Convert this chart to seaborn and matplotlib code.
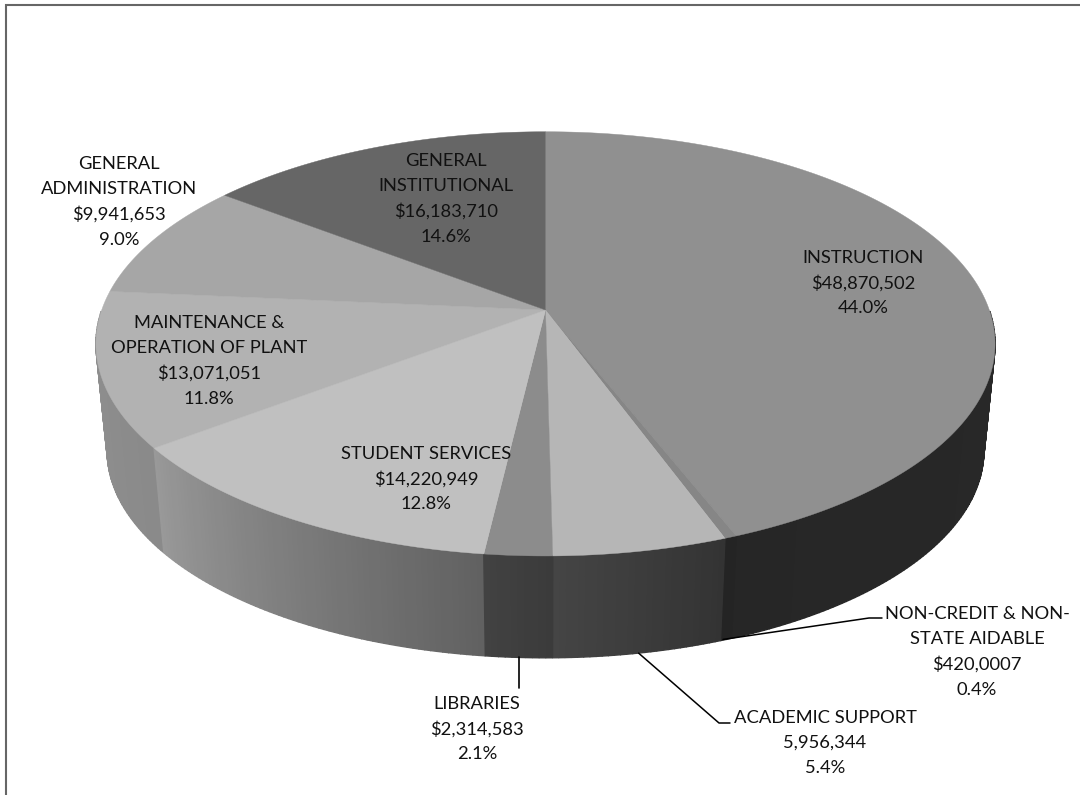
import numpy as np
import matplotlib.pyplot as plt
import seaborn as sns

# Data
categories = ["INSTRUCTION", "NON-CREDIT & NON-\nSTATE AIDABLE", "ACADEMIC SUPPORT", "LIBRARIES",
              "STUDENT SERVICES", "MAINTENANCE &\nOPERATION OF PLANT", "GENERAL\nADMINISTRATION",
              "GENERAL\nINSTITUTIONAL"]
amounts = [48870502, 420007, 5956344, 2314583, 14220949, 13071051, 9941653, 16183710]
amount_labels = ["$48,870,502", "$420,0007", "5,956,344", "$2,314,583", "$14,220,949", "$13,071,051",
                 "$9,941,653", "$16,183,710"]
percent_labels = ["44.0%", "0.4%", "5.4%", "2.1%", "12.8%", "11.8%", "9.0%", "14.6%"]

# Colours
top_colors = ["#909090", "#868686", "#b6b6b6", "#8c8c8c", "#c0c0c0", "#b2b2b2", "#a6a6a6", "#666666"]
wall_start = [0.17, 0.14, 0.20, 0.23, 0.38, 0.54, 0.56, 0.40]
wall_end = [0.15, 0.14, 0.27, 0.26, 0.60, 0.57, 0.58, 0.42]
label_x = [863, 977, 825, 477, 426, 209, 119, 446]
label_y = [283, 652, 743, 729, 479, 361, 202, 199]

sns.set_theme(style="white")
plt.rcParams['font.family'] = ['Lato', 'DejaVu Sans']
palette = sns.color_palette(top_colors)

# Perspective of the pie, in pixels of the picture
K = 0.1596
RX = 443.8
RY = 206.7
CX = 545.5
CY_TOP = 310
CY_BOTTOM = 418
BOTTOM_SCALE = 0.975


def project(theta, radius=1.0, cy=CY_TOP, scale=1.0):
    # theta runs clockwise from 12 o'clock
    x = radius * np.sin(theta)
    y = radius * np.cos(theta)
    w = 1 + K * y
    return CX + scale * RX * x / w, cy - scale * RY * y / w


fig = plt.figure(figsize=(10.8, 7.95), dpi=100)
ax = fig.add_axes([0, 0, 1, 1])
ax.set_xlim(0, 1080)
ax.set_ylim(795, 0)
ax.axis("off")

# Outer frame, only top and left
ax.plot([6, 6, 1080], [795, 5, 5], color="#666666", lw=1.5, solid_joinstyle="miter")

shares = np.array(amounts) / np.sum(amounts)
edges = np.concatenate([[0], np.cumsum(shares)]) * 2 * np.pi
mids = (edges[:-1] + edges[1:]) / 2

# Side wall, only the strips facing the viewer, back to front
strips = []
for i in range(len(amounts)):
    n = max(2, int((edges[i + 1] - edges[i]) / 0.012))
    t = np.linspace(edges[i], edges[i + 1], n + 1)
    for j in range(n):
        f = (j + 0.5) / n
        g = wall_start[i] + (wall_end[i] - wall_start[i]) * f
        if np.cos(t[j]) < 0 and np.cos(t[j + 1]) < 0:
            strips.append((t[j], t[j + 1], g))
strips.sort(key=lambda s: -np.cos((s[0] + s[1]) / 2))
for t0, t1, g in strips:
    tt = np.array([t0, t1])
    xa, ya = project(tt)
    xb, yb = project(tt[::-1], cy=CY_BOTTOM, scale=BOTTOM_SCALE)
    ax.fill(np.r_[xa, xb], np.r_[ya, yb], color=str(g), lw=1.0)

# Top face
for i, c in enumerate(palette):
    t = np.linspace(edges[i], edges[i + 1], 200)
    xs, ys = project(t)
    ax.fill(np.r_[CX, xs], np.r_[CY_TOP, ys], color=c, lw=0.3)

# Leader lines
x0, y0 = project(mids[3], cy=CY_BOTTOM, scale=BOTTOM_SCALE)
ax.plot([x0, x0], [y0, 688], color="black", lw=1.2)
x0, y0 = project(mids[2], cy=CY_BOTTOM, scale=BOTTOM_SCALE)
ax.plot([x0, 719, 730], [y0, 723, 723], color="black", lw=1.1)
x0, y0 = project(mids[1], cy=CY_BOTTOM, scale=BOTTOM_SCALE)
ax.plot([x0 - 3, 869, 882], [y0, 618, 618], color="black", lw=1.1)

# Labels
for i, name in enumerate(categories):
    txt = name + "\n" + amount_labels[i] + "\n" + percent_labels[i]
    ax.text(label_x[i], label_y[i], txt, ha="center", va="center", fontsize=13.2,
            color="#111111", linespacing=1.66)

plt.savefig("out.png", dpi=100)
